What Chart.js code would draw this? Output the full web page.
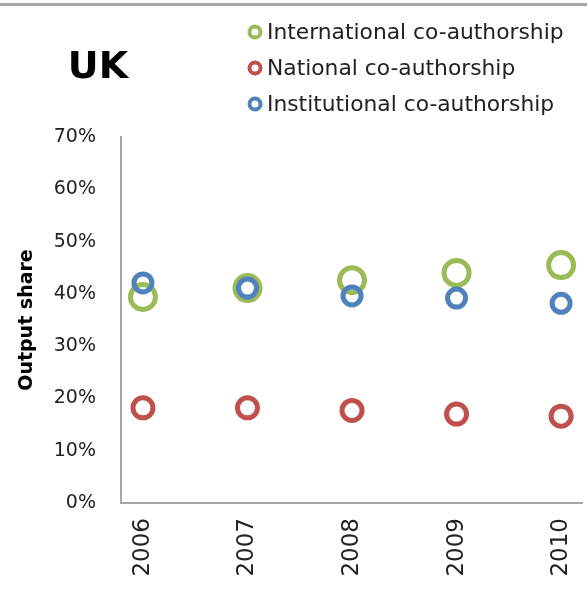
<!DOCTYPE html>
<html>
<head>
<meta charset="utf-8">
<script src="https://cdn.jsdelivr.net/npm/chart.js@4/dist/chart.umd.min.js"></script>
<style>
  html, body { margin: 0; padding: 0; background: #fff; }
  #wrap { width: 587px; height: 591px; position: relative; }
</style>
</head>
<body>
<div id="wrap"><canvas id="c" width="587" height="591"></canvas></div>
<script>
const titleText = 'UK';
const yAxisTitle = 'Output share';
const years = [2006, 2007, 2008, 2009, 2010];
const seriesNames = ['International co-authorship', 'National co-authorship', 'Institutional co-authorship'];
const international = [39.4, 41.1, 42.6, 44.0, 45.5];
const national = [18.2, 18.2, 17.7, 17.0, 16.6];
const institutional = [42.1, 41.1, 39.6, 39.2, 38.2];
const yTicks = [0, 10, 20, 30, 40, 50, 60, 70];

const colors = ['#9BBB59', '#C0504D', '#4F81BD'];
const FONT = '"DejaVu Sans", Verdana, sans-serif';

function pts(vals) { return years.map((y, i) => ({ x: y, y: vals[i] })); }

const decor = {
  id: 'decor',
  beforeDraw(chart) {
    const ctx = chart.ctx;
    ctx.save();
    ctx.fillStyle = '#ffffff';
    ctx.fillRect(0, 0, chart.width, chart.height);
    ctx.fillStyle = '#a6a6a6';
    ctx.fillRect(0, 3, chart.width, 3);
    ctx.restore();
  },
  afterDraw(chart) {
    const ctx = chart.ctx;
    ctx.save();
    ctx.fillStyle = '#000';
    ctx.font = 'bold 38px ' + FONT;
    ctx.textAlign = 'center';
    ctx.textBaseline = 'alphabetic';
    ctx.fillText(titleText, 98, 78);
    const rows = [32, 68, 104];
    ctx.font = '21.8px ' + FONT;
    ctx.textAlign = 'left';
    ctx.textBaseline = 'middle';
    chart.data.datasets.forEach((ds, i) => {
      const cy = rows[i];
      ctx.beginPath();
      ctx.arc(255, cy, 5.5, 0, Math.PI * 2);
      ctx.lineWidth = 4;
      ctx.strokeStyle = ds.borderColor;
      ctx.stroke();
      ctx.fillStyle = '#222';
      ctx.fillText(ds.label, 267, cy + 1);
    });
    ctx.restore();
  }
};

new Chart(document.getElementById('c'), {
  type: 'scatter',
  data: {
    datasets: [
      { label: seriesNames[0], data: pts(international), borderColor: colors[0], backgroundColor: 'rgba(0,0,0,0)',
        pointRadius: 12.5, pointBorderWidth: 5, order: 2 },
      { label: seriesNames[1], data: pts(national), borderColor: colors[1], backgroundColor: 'rgba(0,0,0,0)',
        pointRadius: 10, pointBorderWidth: 5, order: 1 },
      { label: seriesNames[2], data: pts(institutional), borderColor: colors[2], backgroundColor: 'rgba(0,0,0,0)',
        pointRadius: 9, pointBorderWidth: 5, order: 0 }
    ]
  },
  options: {
    responsive: false,
    animation: false,
    events: [],
    clip: false,
    layout: { autoPadding: false, padding: { top: 137, right: 5, left: 0, bottom: 0 } },
    plugins: { legend: { display: false }, tooltip: { enabled: false }, title: { display: false } },
    scales: {
      x: {
        type: 'linear',
        min: 2005.79,
        max: 2010.2,
        afterBuildTicks(scale) { scale.ticks = years.map(v => ({ value: v })); },
        afterFit(scale) { scale.height = 88; scale.paddingLeft = 0; scale.paddingRight = 0; },
        grid: { display: false, drawTicks: false },
        border: { display: true, color: '#a6a6a6', width: 2 },
        ticks: {
          autoSkip: false, minRotation: 90, maxRotation: 90, padding: 15,
          color: '#222', font: { family: FONT, size: 23 },
          callback: v => String(v)
        }
      },
      y: {
        min: 0, max: 70,
        afterBuildTicks(scale) { scale.ticks = yTicks.map(v => ({ value: v })); },
        afterFit(scale) { scale.width = 121; scale.paddingTop = 0; scale.paddingBottom = 0; },
        grid: { display: false, drawTicks: false },
        border: { display: true, color: '#a6a6a6', width: 2 },
        ticks: { padding: 25, color: '#222', font: { family: FONT, size: 19 }, callback: v => v + '%' },
        title: { display: true, text: yAxisTitle, color: '#000', padding: { top: 16, bottom: 0 },
                 font: { family: FONT, size: 19, weight: 'bold' } }
      }
    }
  },
  plugins: [decor]
});
</script>
</body>
</html>
